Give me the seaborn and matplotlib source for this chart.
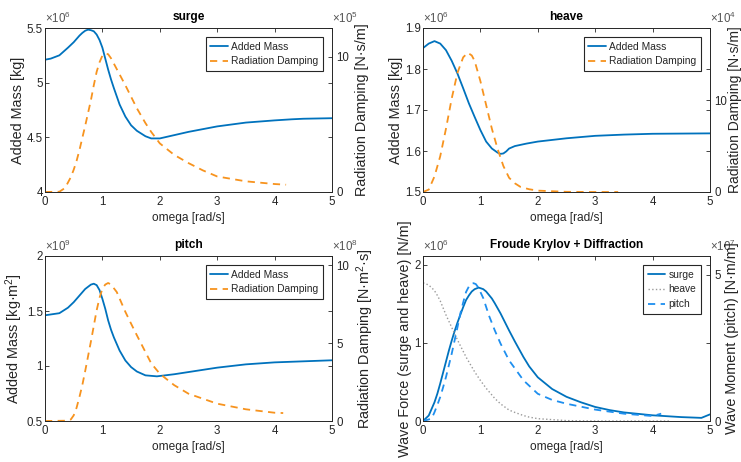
import numpy as np
import pandas as pd
import seaborn as sns
import matplotlib.pyplot as plt

# werte (skaliert, faktor steht an der achse)
surge_am_w = [0, 0.1, 0.25, 0.4, 0.5, 0.6, 0.65, 0.7, 0.75, 0.8, 0.85, 0.9, 0.95, 1.0, 1.05, 1.1, 1.15, 1.2, 1.3, 1.4, 1.5, 1.6, 1.75, 1.85, 2.0, 2.25, 2.5, 3.0, 3.5, 4.0, 4.3, 4.5, 5.0]
surge_am = [5.21, 5.22, 5.25, 5.32, 5.37, 5.43, 5.455, 5.475, 5.485, 5.48, 5.47, 5.44, 5.39, 5.32, 5.22, 5.12, 5.03, 4.95, 4.80, 4.69, 4.61, 4.56, 4.51, 4.49, 4.49, 4.52, 4.55, 4.60, 4.635, 4.655, 4.665, 4.67, 4.675]
surge_rd_w = [0, 0.25, 0.35, 0.45, 0.5, 0.55, 0.6, 0.65, 0.7, 0.75, 0.8, 0.85, 0.9, 0.95, 1.0, 1.05, 1.1, 1.15, 1.2, 1.3, 1.4, 1.5, 1.6, 1.75, 1.85, 2.0, 2.25, 2.5, 2.75, 3.0, 3.5, 4.0, 4.2]
surge_rd = [0, 0.02, 0.3, 1.1, 1.65, 2.3, 3.1, 4.0, 4.9, 5.85, 6.8, 7.9, 8.9, 9.6, 10.1, 10.25, 10.2, 9.9, 9.5, 8.7, 7.9, 7.05, 6.2, 5.1, 4.45, 3.6, 2.75, 2.14, 1.6, 1.15, 0.79, 0.59, 0.54]

heave_am_w = [0, 0.1, 0.2, 0.3, 0.4, 0.5, 0.6, 0.7, 0.8, 0.9, 1.0, 1.1, 1.2, 1.3, 1.35, 1.4, 1.45, 1.5, 1.6, 1.8, 2.0, 2.5, 3.0, 3.5, 4.0, 5.0]
heave_am = [1.851, 1.862, 1.868, 1.862, 1.846, 1.82, 1.789, 1.753, 1.716, 1.683, 1.651, 1.623, 1.606, 1.596, 1.593, 1.594, 1.599, 1.606, 1.612, 1.618, 1.623, 1.631, 1.637, 1.640, 1.642, 1.643]
heave_rd_w = [0, 0.1, 0.2, 0.3, 0.4, 0.5, 0.6, 0.7, 0.78, 0.85, 0.9, 1.0, 1.1, 1.2, 1.3, 1.4, 1.5, 1.6, 1.7, 1.85, 2.0, 2.5, 3.0, 3.4]
heave_rd = [0, 0.26, 1.7, 3.9, 6.9, 10.2, 13.0, 14.7, 15.2, 14.9, 14.3, 12.1, 9.5, 6.9, 4.7, 2.84, 1.55, 0.95, 0.55, 0.3, 0.15, 0.02, 0, 0]

pitch_am_w = [0, 0.25, 0.4, 0.5, 0.6, 0.7, 0.8, 0.85, 0.9, 0.95, 1.0, 1.05, 1.1, 1.15, 1.2, 1.3, 1.4, 1.5, 1.6, 1.75, 1.95, 2.25, 2.5, 3.0, 3.5, 4.0, 5.0]
pitch_am = [1.461, 1.48, 1.53, 1.58, 1.64, 1.70, 1.74, 1.748, 1.735, 1.69, 1.61, 1.52, 1.415, 1.33, 1.26, 1.14, 1.05, 0.99, 0.95, 0.915, 0.906, 0.925, 0.945, 0.985, 1.015, 1.033, 1.052]
pitch_rd_w = [0, 0.4, 0.45, 0.5, 0.55, 0.6, 0.65, 0.7, 0.75, 0.8, 0.85, 0.9, 0.95, 1.0, 1.05, 1.1, 1.15, 1.25, 1.4, 1.5, 1.6, 1.75, 1.85, 2.0, 2.25, 2.5, 3.0, 3.5, 4.0, 4.15]
pitch_rd = [0, 0.02, 0.1, 0.36, 0.85, 1.54, 2.3, 3.2, 4.15, 5.1, 6.1, 7.1, 7.9, 8.48, 8.75, 8.85, 8.75, 8.27, 7.0, 6.24, 5.5, 4.42, 3.7, 3.03, 2.3, 1.75, 1.11, 0.75, 0.53, 0.51]

fk_surge_w = [0, 0.1, 0.2, 0.25, 0.3, 0.35, 0.4, 0.45, 0.5, 0.55, 0.6, 0.65, 0.7, 0.75, 0.8, 0.85, 0.9, 0.97, 1.05, 1.1, 1.2, 1.25, 1.35, 1.5, 1.6, 1.75, 1.85, 2.0, 2.25, 2.5, 2.75, 3.0, 3.25, 3.5, 4.0, 4.5, 4.75, 4.85, 5.0]
fk_surge = [0, 0.07, 0.24, 0.35, 0.48, 0.62, 0.76, 0.90, 1.03, 1.15, 1.26, 1.36, 1.46, 1.55, 1.61, 1.66, 1.69, 1.71, 1.69, 1.66, 1.57, 1.51, 1.38, 1.16, 1.02, 0.82, 0.70, 0.56, 0.41, 0.31, 0.24, 0.18, 0.14, 0.11, 0.073, 0.05, 0.043, 0.04, 0.085]
fk_heave_w = [0, 0.05, 0.1, 0.15, 0.2, 0.25, 0.3, 0.4, 0.5, 0.6, 0.75, 0.9, 1.0, 1.1, 1.25, 1.35, 1.5, 1.6, 1.75, 1.85, 2.0, 2.5, 3.0, 4.3]
fk_heave = [1.77, 1.76, 1.74, 1.71, 1.67, 1.61, 1.54, 1.36, 1.20, 1.04, 0.82, 0.63, 0.52, 0.42, 0.29, 0.22, 0.14, 0.11, 0.07, 0.05, 0.03, 0.005, 0, 0]
fk_pitch_w = [0, 0.15, 0.2, 0.25, 0.3, 0.35, 0.4, 0.45, 0.5, 0.55, 0.6, 0.65, 0.7, 0.75, 0.8, 0.85, 0.88, 0.92, 0.95, 1.0, 1.05, 1.1, 1.15, 1.2, 1.25, 1.35, 1.5, 1.6, 1.75, 2.0, 2.25, 2.5, 3.0, 3.5, 4.0, 4.15]
fk_pitch = [0, 0.08, 0.3, 0.55, 0.82, 1.15, 1.5, 1.9, 2.3, 2.75, 3.2, 3.67, 4.05, 4.41, 4.6, 4.7, 4.71, 4.68, 4.6, 4.41, 4.2, 3.9, 3.6, 3.35, 3.10, 2.65, 2.07, 1.8, 1.39, 0.93, 0.72, 0.59, 0.39, 0.25, 0.17, 0.25]

blue = "#0072BD"
orange = "#F7931E"
lightblue = "#1E8FEF"
ink = "#262626"

sns.set_theme(style="white")
plt.rcParams["font.family"] = ["Liberation Sans", "DejaVu Sans"]
plt.rcParams["mathtext.fontset"] = "custom"
plt.rcParams["mathtext.rm"] = "Liberation Sans"
plt.rcParams["mathtext.it"] = "Liberation Sans:italic"
plt.rcParams["axes.edgecolor"] = ink
plt.rcParams["axes.linewidth"] = 0.6

fig = plt.figure(figsize=(7.41, 4.62), dpi=100)

# achsen position in pixel (links, unten, breite, hoehe)
pos = {"surge": (45, 270, 287, 164), "heave": (423, 270, 287, 164),
       "pitch": (45, 41, 287, 165), "fk": (423, 41, 287, 165)}


def make_axes(key):
    l, b, w, h = pos[key]
    ax = fig.add_axes([l / 741, b / 462, w / 741, h / 462])
    ax2 = ax.twinx()
    return ax, ax2


def style(ax, ax2, ylim, ylim2, yt, yt2, sc1, sc2, title):
    ax.set_xlim(0, 5)
    ax.set_xticks([0, 1, 2, 3, 4, 5])
    ax.set_ylim(*ylim)
    ax.set_yticks(yt)
    ax.set_yticklabels(["%g" % v for v in yt])
    ax2.set_ylim(*ylim2)
    ax2.set_yticks(yt2)
    ax2.set_yticklabels(["%g" % v for v in yt2])
    ax.tick_params(direction="in", top=True, right=True, length=3, width=0.6, labelsize=8.3, pad=3, colors=ink)
    ax.tick_params(axis="y", pad=1.5)
    ax2.tick_params(direction="in", length=3, width=0.6, labelsize=8.3, pad=3, colors=ink)
    ax.set_xlabel("omega [rad/s]", fontsize=8.6, color=ink, labelpad=3)
    ax.set_title(title, fontsize=8.6, fontweight="bold", pad=6, color="black")
    ax.text(0.0, 1.012, r"$\times10^{%d}$" % sc1, transform=ax.transAxes, fontsize=8.3, color="#555555", va="bottom", ha="left")
    ax.text(1.0, 1.012, r"$\times10^{%d}$" % sc2, transform=ax.transAxes, fontsize=8.3, color="#555555", va="bottom", ha="left")
    for a in (ax, ax2):
        for s in a.spines.values():
            s.set_visible(True)


def ylabels(ax, ax2, left, right, pad2=4, size2=10.4):
    ax.set_ylabel(left, fontsize=10.4, color=ink, labelpad=1.5)
    ax2.set_ylabel(right, fontsize=size2, color=ink, labelpad=pad2)


def legend(ax, ax2, labels):
    handles = ax.get_lines() + ax2.get_lines()
    leg = ax2.legend(handles, labels, loc="upper right", fontsize=7.4, frameon=True, fancybox=False,
                     edgecolor=ink, framealpha=1, borderaxespad=0.9, handlelength=1.7,
                     handletextpad=0.3, borderpad=0.45, labelspacing=0.45)
    leg.get_frame().set_linewidth(0.8)


# surge
ax, ax2 = make_axes("surge")
sns.lineplot(x=surge_am_w, y=surge_am, ax=ax, color=blue, lw=1.3, legend=False)
sns.lineplot(x=surge_rd_w, y=surge_rd, ax=ax2, color=orange, lw=1.3, legend=False)
ax2.get_lines()[0].set_dashes((4, 3))
style(ax, ax2, (4, 5.5), (0, 12.14), [4, 4.5, 5, 5.5], [0, 10], 6, 5, "surge")
ylabels(ax, ax2, "Added Mass [kg]", "Radiation Damping [N·s/m]")
legend(ax, ax2, ["Added Mass", "Radiation Damping"])

# heave
ax, ax2 = make_axes("heave")
sns.lineplot(x=heave_am_w, y=heave_am, ax=ax, color=blue, lw=1.3, legend=False)
sns.lineplot(x=heave_rd_w, y=heave_rd, ax=ax2, color=orange, lw=1.3, legend=False)
ax2.get_lines()[0].set_dashes((4, 3))
style(ax, ax2, (1.5, 1.9), (0, 17.9), [1.5, 1.6, 1.7, 1.8, 1.9], [0, 10], 6, 4, "heave")
ylabels(ax, ax2, "Added Mass [kg]", "Radiation Damping [N·s/m]", pad2=0.5, size2=10)
legend(ax, ax2, ["Added Mass", "Radiation Damping"])

# pitch
ax, ax2 = make_axes("pitch")
sns.lineplot(x=pitch_am_w, y=pitch_am, ax=ax, color=blue, lw=1.3, legend=False)
sns.lineplot(x=pitch_rd_w, y=pitch_rd, ax=ax2, color=orange, lw=1.3, legend=False)
ax2.get_lines()[0].set_dashes((4, 3))
style(ax, ax2, (0.5, 2), (0, 10.58), [0.5, 1, 1.5, 2], [0, 5, 10], 9, 8, "pitch")
ylabels(ax, ax2, r"Added Mass [kg·m$^2$]", r"Radiation Damping [N·m$^2$·s]")
legend(ax, ax2, ["Added Mass", "Radiation Damping"])

# froude krylov + diffraction
ax, ax2 = make_axes("fk")
sns.lineplot(x=fk_surge_w, y=fk_surge, ax=ax, color=blue, lw=1.3, legend=False)
sns.lineplot(x=fk_heave_w, y=fk_heave, ax=ax, color="#9A9A9A", lw=1.0, legend=False)
ax.get_lines()[1].set_linestyle(":")
sns.lineplot(x=fk_pitch_w, y=fk_pitch, ax=ax2, color=lightblue, lw=1.3, legend=False)
ax2.get_lines()[0].set_dashes((4, 3))
style(ax, ax2, (0, 2.115), (0, 5.64), [0, 1, 2], [0, 5], 6, 7, "Froude Krylov + Diffraction")
ylabels(ax, ax2, "Wave Force (surge and heave) [N/m]", "Wave Moment (pitch) [N·m/m]", pad2=3)
legend(ax, ax2, ["surge", "heave", "pitch"])

plt.savefig("out.png", dpi=100)
